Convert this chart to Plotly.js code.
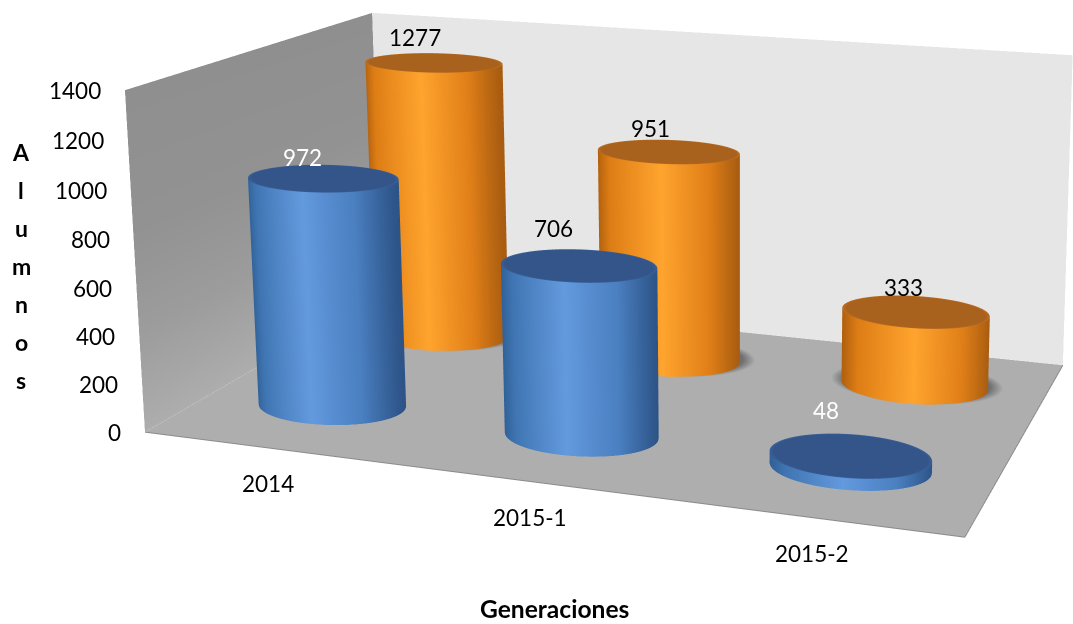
<!DOCTYPE html>
<html><head><meta charset="utf-8">
<script src="https://cdn.plot.ly/plotly-3.0.1.min.js"></script>
<style>html,body{margin:0;padding:0;width:1073px;height:624px;overflow:hidden;background:#fff}
#wrap{position:absolute;left:0;top:0;width:1073px;height:624px;overflow:hidden}
#chart{position:absolute}</style></head><body><div id="wrap"><div id="chart"></div></div>
<script>
const categories=["2014","2015-1","2015-2"];
const seriesFront=[972,706,48];
const seriesBack=[1277,951,333];
const yTicks=[0,200,400,600,800,1000,1200,1400];
const xTitle="Generaciones";
const yTitle="Alumnos";
const FONT="Lato, Carlito, sans-serif";
// the plot is bigger than the window so that the 45 degree scene camera acts like a long lens
const PP=[823,78],F=2074,W=1700,H=Math.round(2*F*Math.tan(Math.PI/8));
const left=PP[0]-W/2,top_=PP[1]-H/2;
const el=document.getElementById('chart');
el.style.left=left+'px';el.style.top=top_+'px';el.style.width=W+'px';el.style.height=H+'px';
const flat={ambient:1,diffuse:0,specular:0,roughness:1,fresnel:0};
function plane(xs,ys,zs,vals,scale){return{type:'surface',x:xs,y:ys,z:zs,surfacecolor:vals,colorscale:scale,cmin:0,cmax:1,showscale:false,lighting:flat,hoverinfo:'skip',contours:{x:{show:false},y:{show:false},z:{show:false}}};}
const solid=c=>[[0,c],[1,c]];
const R=0.285,ASPECT=[0.8094,0.4691,0.3366],RY=R*1.15*0.7;
const n=72;
function disc(cx,cy,z,radii,vals,scale){
  const tx=[],ty=[],tz=[],tc=[];
  radii.forEach((r,k)=>{const a=[],b=[],c=[],d=[];
    for(let i=0;i<=n;i++){const t=i/n*2*Math.PI;a.push(cx+r*R*Math.cos(t));b.push(cy+r*RY*Math.sin(t));c.push(z);d.push(vals[k]);}
    tx.push(a);ty.push(b);tz.push(c);tc.push(d);});
  return plane(tx,ty,tz,tc,scale);
}
function cyl(cx,cy,v,sideScale,topColor,rimColor){
  const xs=[],ys=[],zs=[],sc=[];
  const wx=R*ASPECT[0]/3*0.9578,wy=RY*ASPECT[1]/2*0.2874,wn=Math.hypot(wx,wy);
  for(const z of [0,v]){const a=[],b=[],c=[],d=[];
    for(let i=0;i<=n;i++){const t=i/n*2*Math.PI;a.push(cx+R*Math.cos(t));b.push(cy+RY*Math.sin(t));c.push(z);
      d.push((Math.cos(t)*wx+Math.sin(t)*wy)/wn*0.5+0.5);}
    xs.push(a);ys.push(b);zs.push(c);sc.push(d);}
  return[plane(xs,ys,zs,sc,sideScale),disc(cx,cy,v,[0,0.95,1],[0,0,1],[[0,topColor],[1,rimColor]])];
}
const blue=[[0,'#2f5f94'],[0.1,'#3f75b2'],[0.45,'#639ade'],[0.78,'#4a7fc0'],[1,'#2d5488']];
const orange=[[0,'#b0600f'],[0.1,'#dd7d15'],[0.48,'#ffa42e'],[0.8,'#e07f18'],[1,'#a85c10']];
const traces=[
 plane([[0,3],[0,3]],[[0,0],[2,2]],[[0,0],[0,0]],[[0,0],[0,0]],solid('#aeaeae')),
 plane([[0,0],[0,0]],[[0,2],[0,2]],[[0,0],[1400,1400]],[[0,0],[1,1]],[[0,'#adadad'],[0.3,'#9c9c9c'],[0.6,'#929292'],[1,'#8f8f8f']]),
 plane([[0,3],[0,3]],[[2,2],[2,2]],[[0,0],[1400,1400]],[[0,0],[0,0]],solid('#e6e6e6')),
 {type:'scatter3d',mode:'lines',x:[0,3,3],y:[0,0,2],z:[0,0,0],line:{color:'#8a8a8a',width:2},hoverinfo:'skip'},
];
const CY=[0.52,1.52],FRONT_DX=-0.007;
categories.forEach((c,i)=>{
 traces.push(disc(i+0.5,CY[1]+0.04,3,[0,0.95,1,1.18],[0,0,0,1],[[0,'#6f6f6f'],[1,'#aeaeae']]));
 traces.push(...cyl(i+0.5+FRONT_DX,CY[0],seriesFront[i],blue,'#34558a','#3a6099'));
 traces.push(...cyl(i+0.5,CY[1],seriesBack[i],orange,'#a9621e','#bd6f1e'));
});
const labelFrontDx=[-21,-25,-24],labelFrontDy=[20.5,37.5,45.5];
const labelBackDx=[-19,-18,-12],labelBackDy=[25.5,23.5,24.5];
const catDx=[0,0,-2];
const anns=[];
const txt=(t,x,y,z,o)=>Object.assign({x,y,z,text:t,showarrow:false,font:{family:FONT,size:22.5,color:'#000'}},o||{});
yTicks.forEach(v=>anns.push(txt(String(v),0,0,v,{xanchor:'right',xshift:-22})));
categories.forEach((c,i)=>anns.push(txt(c,i+0.5,0,0,{yshift:-36,xshift:catDx[i]})));
categories.forEach((c,i)=>{
 anns.push(txt(String(seriesFront[i]),i+0.5+FRONT_DX,CY[0],seriesFront[i],{xshift:labelFrontDx[i],yshift:labelFrontDy[i],font:{family:FONT,size:22.5,color:i==1?'#000':'#fff'}}));
 anns.push(txt(String(seriesBack[i]),i+0.5,CY[1],seriesBack[i],{xshift:labelBackDx[i],yshift:labelBackDy[i]}));
});
const pa=(t,px,py,size)=>({x:(px-left)/W,y:1-(py-top_)/H,xref:'paper',yref:'paper',xanchor:'center',yanchor:'middle',text:'<b>'+t+'</b>',showarrow:false,font:{family:FONT,size,color:'#000'}});
const paper=[pa(xTitle,555,608,24.6)];
[...yTitle].forEach((ch,i)=>paper.push(pa(ch,21,152+i*38,23)));
const hidden={visible:false,showgrid:false,zeroline:false,showspikes:false};
const layout={width:W,height:H,margin:{l:0,r:0,t:0,b:0},paper_bgcolor:'#fff',showlegend:false,annotations:paper,
 scene:{domain:{x:[0,1],y:[0,1]},aspectmode:'manual',aspectratio:{x:ASPECT[0],y:ASPECT[1],z:ASPECT[2]},
  xaxis:Object.assign({range:[0,3]},hidden),yaxis:Object.assign({range:[0,2]},hidden),zaxis:Object.assign({range:[0,1400]},hidden),
  camera:{eye:{x:0.7611,y:-1.8642,z:0.5593},center:{x:0.2001,y:0.016,z:0.1719},up:{x:-0.063,y:0.1831,z:0.981},projection:{type:'perspective'}},
  annotations:anns}};
Plotly.newPlot(el,traces,layout,{displayModeBar:false});
</script></body></html>
